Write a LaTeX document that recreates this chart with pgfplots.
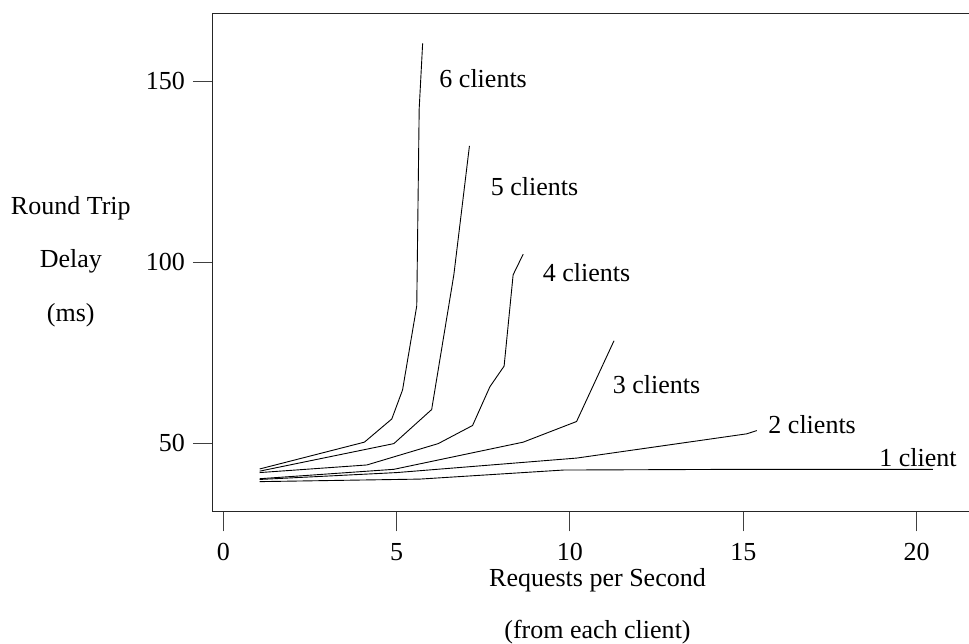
\documentclass[border=0pt]{standalone}
\usepackage{fontspec}
\setmainfont{Liberation Serif}
\usepackage{pgfplots}
\pgfplotsset{compat=1.18}

% Round trip delay measurements, one table per client count
\pgfplotstableread{
x y
1.05 39.4
5.67 40.1
9.81 42.6
15.0 42.8
20.47 42.8
}\oneclient
\pgfplotstableread{
x y
1.05 40.0
5.00 41.9
10.19 45.9
15.10 52.6
15.39 53.5
}\twoclients
\pgfplotstableread{
x y
1.05 40.2
4.92 42.8
8.65 50.3
10.19 56.0
11.27 78.3
}\threeclients
\pgfplotstableread{
x y
1.05 41.9
4.14 44.0
6.20 49.9
7.19 54.9
7.69 65.6
8.10 71.3
8.36 96.5
8.65 102.2
}\fourclients
\pgfplotstableread{
x y
1.05 42.3
4.92 49.9
6.01 59.3
6.65 96.5
7.10 132.1
}\fiveclients
\pgfplotstableread{
x y
1.05 42.9
4.07 50.3
4.86 56.7
5.17 64.7
5.58 87.9
5.65 142.3
5.75 160.4
}\sixclients

\begin{document}
\fontsize{26.1}{31}\selectfont
\begin{tikzpicture}[x=1bp,y=1bp]
\useasboundingbox (-212.7,-132.3) rectangle (756.3,511.7);
\begin{axis}[
  at={(0,0)}, anchor=south west,
  scale only axis, width=756.3bp, height=498.4bp,
  xmin=-0.306, xmax=21.51, ymin=31.1, ymax=168.7,
  axis x line=box, axis y line=left,
  axis line style={-, line width=1.4bp, black!85},
  xtick={0,5,10,15,20}, ytick={50,100,150},
  xtick pos=left, ytick pos=left,
  tick align=outside, major tick length=19.7bp,
  tick style={line width=1bp, black!75},
  /pgf/number format/assume math mode=true,
  tick label style={font=\fontsize{26.1}{31}\selectfont},
  yticklabel style={inner sep=0pt, xshift=-8bp},
  xticklabel style={inner sep=0pt, yshift=-11.6bp},
  clip=false,
  curve/.style={black, solid, line width=0.9bp, mark=none},
]
\addplot[curve] table[x=x,y=y] {\oneclient};
\addplot[curve] table[x=x,y=y] {\twoclients};
\addplot[curve] table[x=x,y=y] {\threeclients};
\addplot[curve] table[x=x,y=y] {\fourclients};
\addplot[curve] table[x=x,y=y] {\fiveclients};
\addplot[curve] table[x=x,y=y] {\sixclients};

\node[anchor=base west, inner sep=0pt] at (axis cs:6.23,148.3) {6 clients};
\node[anchor=base west, inner sep=0pt] at (axis cs:7.71,118.3) {5 clients};
\node[anchor=base west, inner sep=0pt] at (axis cs:9.21,94.6) {4 clients};
\node[anchor=base west, inner sep=0pt] at (axis cs:11.23,63.8) {3 clients};
\node[anchor=base west, inner sep=0pt] at (axis cs:15.72,52.6) {2 clients};
\node[anchor=base west, inner sep=0pt] at (axis cs:18.92,43.5) {1 client};
\end{axis}

% axis titles
\node[anchor=base, inner sep=0pt] at (-141.9,296.7) {Round Trip};
\node[anchor=base, inner sep=0pt] at (-141.9,244.4) {Delay};
\node[anchor=base, inner sep=0pt] at (-141.9,190.0) {(ms)};
\node[anchor=base, inner sep=0pt] at (384.8,-75.0) {Requests per Second};
\node[anchor=base, inner sep=0pt] at (384.8,-126.6) {(from each client)};
\end{tikzpicture}
\end{document}
